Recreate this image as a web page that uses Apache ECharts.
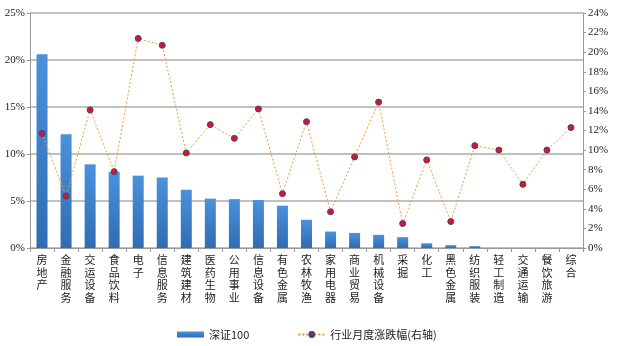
<!DOCTYPE html>
<html>
<head>
<meta charset="utf-8">
<script src="https://cdn.jsdelivr.net/npm/echarts@6/dist/echarts.min.js"></script>
<style>
  html, body { margin: 0; padding: 0; background: #fff; }
  #chart { width: 620px; height: 346px; }
</style>
</head>
<body>
<div id="chart"></div>
<script>
// Industries, sorted by the 深证100 weight
var categories = ['房地产','金融服务','交运设备','食品饮料','电子','信息服务','建筑建材','医药生物','公用事业','信息设备','有色金属','农林牧渔','家用电器','商业贸易','机械设备','采掘','化工','黑色金属','纺织服装','轻工制造','交通运输','餐饮旅游','综合'];
// 深证100 industry weights (%), left axis
var szWeights = [20.6, 12.1, 8.9, 8.1, 7.7, 7.5, 6.2, 5.25, 5.2, 5.1, 4.5, 3.0, 1.75, 1.6, 1.4, 1.15, 0.5, 0.3, 0.2, 0, 0, 0, 0];
// Monthly industry change (%), right axis
var monthlyChange = [11.7, 5.3, 14.1, 7.8, 21.4, 20.7, 9.7, 12.6, 11.2, 14.2, 5.55, 12.9, 3.7, 9.3, 14.9, 2.5, 9.0, 2.7, 10.45, 10.0, 6.5, 10.0, 12.3];
var leftTicks = [0, 5, 10, 15, 20, 25];
var rightTicks = [0, 2, 4, 6, 8, 10, 12, 14, 16, 18, 20, 22, 24];

var axisFont = 'Liberation Serif';
var cjkFont = 'Noto Sans CJK SC';
var chart = echarts.init(document.getElementById('chart'));
chart.setOption({
  animation: false,
  grid: { left: 30, right: 37, top: 13, bottom: 98 },
  legend: {
    bottom: 6,
    left: 177,
    padding: 0,
    itemGap: 48,
    itemWidth: 27,
    itemHeight: 6,
    textStyle: { fontFamily: cjkFont, fontSize: 11, color: '#222' },
    data: [
      { name: '深证100', icon: 'rect' },
      { name: '行业月度涨跌幅(右轴)' }
    ]
  },
  xAxis: {
    type: 'category',
    data: categories,
    axisLine: { lineStyle: { color: '#999', width: 1 } },
    axisTick: { show: true, alignWithLabel: false, length: 4, lineStyle: { color: '#999' } },
    axisLabel: {
      interval: 0,
      fontFamily: cjkFont,
      fontSize: 11,
      lineHeight: 12.5,
      color: '#222',
      margin: 6,
      formatter: function (v) { return v.split('').join('\n'); }
    }
  },
  yAxis: [
    {
      type: 'value',
      min: leftTicks[0],
      max: leftTicks[leftTicks.length - 1],
      interval: 5,
      axisLine: { show: true, lineStyle: { color: '#999' } },
      axisTick: { show: true, length: 3, lineStyle: { color: '#999' } },
      splitLine: { show: true, lineStyle: { color: '#c0c0c0', width: 2 } },
      axisLabel: { formatter: '{value}%', fontFamily: axisFont, fontSize: 11, color: '#222', margin: 5 }
    },
    {
      type: 'value',
      min: rightTicks[0],
      max: rightTicks[rightTicks.length - 1],
      interval: 2,
      position: 'right',
      axisLine: { show: true, lineStyle: { color: '#999' } },
      axisTick: { show: true, length: 3, lineStyle: { color: '#999' } },
      splitLine: { show: false },
      axisLabel: { formatter: '{value}%', fontFamily: axisFont, fontSize: 11, color: '#222', margin: 5 }
    }
  ],
  series: [
    {
      name: '深证100',
      type: 'bar',
      yAxisIndex: 0,
      data: szWeights,
      barWidth: 11,
      itemStyle: {
        color: new echarts.graphic.LinearGradient(0, 0, 0, 1, [
          { offset: 0, color: '#4a92dc' },
          { offset: 1, color: '#2f6cb3' }
        ])
      }
    },
    {
      name: '行业月度涨跌幅(右轴)',
      type: 'line',
      yAxisIndex: 1,
      data: monthlyChange,
      symbol: 'circle',
      symbolSize: 6,
      lineStyle: { color: '#f39a2e', width: 1, type: [2, 2] },
      itemStyle: { color: '#e8101a', borderColor: '#2d4a8a', borderWidth: 1 }
    }
  ]
});
</script>
</body>
</html>
